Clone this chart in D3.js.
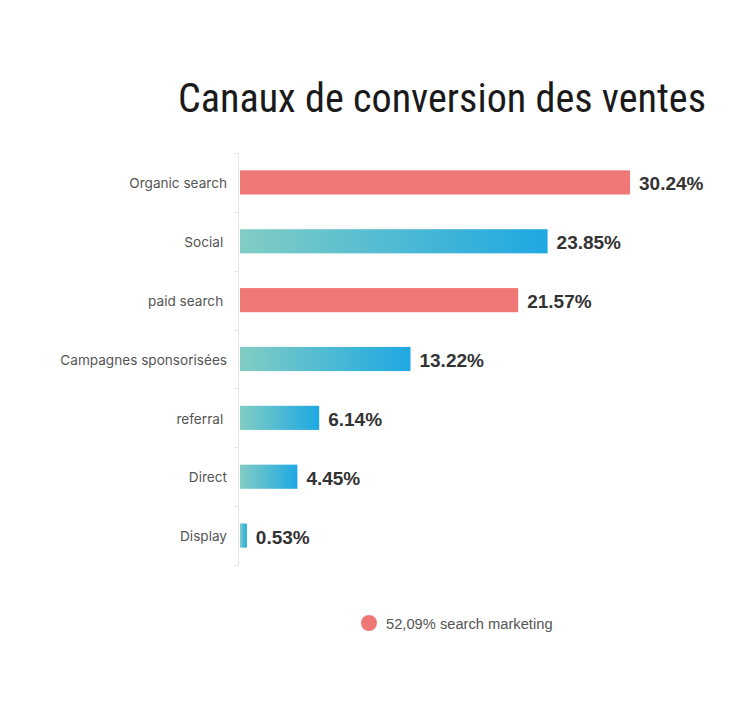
<!DOCTYPE html>
<html><head><meta charset="utf-8">
<script src="https://cdn.jsdelivr.net/npm/d3@7"></script>
<style>body{margin:0;background:#fff}</style>
</head><body><svg id="c" width="750" height="701"></svg>
<script>
const categories = ["Organic search","Social ","paid search ","Campagnes sponsorisées","referral ","Direct","Display"];
const values = [30.24,23.85,21.57,13.22,6.14,4.45,0.53];
const kinds = ["search","other","search","other","other","other","other"];
const valueLabels = ["30.24%","23.85%","21.57%","13.22%","6.14%","4.45%","0.53%"];
const legendLabel = "52,09% search marketing";
const title = "Canaux de conversion des ventes";

(function(){
const svg = d3.select("#c");
const defs = svg.append("defs");
const g = defs.append("linearGradient").attr("id","grad").attr("x1","0%").attr("x2","100%");
g.append("stop").attr("offset","0%").attr("stop-color","#81cdc4");
g.append("stop").attr("offset","100%").attr("stop-color","#1ea8e2");

const mLeft = 240, mTop = 153, mBottom = 565;
const x = d3.scaleLinear().domain([0,30.24]).range([mLeft, 630]);
const y = d3.scaleBand().domain(categories).range([mTop,mBottom]).paddingInner(0.59).paddingOuter(0.295);

svg.append("text").attr("x",706).attr("y",112).attr("text-anchor","end")
  .attr("font-family","'Liberation Sans Narrow','Roboto Condensed','Roboto',sans-serif")
  .attr("font-size",40).attr("fill","#1a1a1a").attr("textLength",528).attr("lengthAdjust","spacingAndGlyphs").text(title);

const yb = d3.scaleBand().domain(categories).range([mTop,mBottom]);
svg.append("line").attr("x1",mLeft-1.5).attr("x2",mLeft-1.5).attr("y1",mTop).attr("y2",mBottom).attr("stroke","#e6e6e6").attr("stroke-width",1);
const tickYs = categories.map(c=>yb(c)).concat([mBottom]);
svg.selectAll("line.tk").data(tickYs).join("line").attr("class","tk")
  .attr("x1",mLeft-6).attr("x2",mLeft-1).attr("y1",d=>Math.round(d)+0.5).attr("y2",d=>Math.round(d)+0.5)
  .attr("stroke","#e6e6e6");

svg.selectAll("rect.bar").data(values).join("rect").attr("class","bar")
  .attr("x",mLeft).attr("y",(d,i)=>y(categories[i]))
  .attr("width",d=>x(d)-mLeft).attr("height",y.bandwidth())
  .attr("fill",(d,i)=>kinds[i]==="search"?"#ef7876":"url(#grad)");

svg.selectAll("text.cat").data(categories).join("text").attr("class","cat")
  .attr("x",227).attr("y",d=>y(d)+y.bandwidth()/2).attr("dy","0.42em")
  .attr("text-anchor","end").style("white-space","pre")
  .attr("font-family","Inter, 'Noto Sans', sans-serif").attr("font-size",13.6).attr("fill","#555")
  .text(d=>d);

svg.selectAll("text.val").data(values).join("text").attr("class","val")
  .attr("x",d=>x(d)+9).attr("y",(d,i)=>y(categories[i])+y.bandwidth()/2).attr("dy","0.42em")
  .attr("font-family","'Liberation Sans', Arial, sans-serif").attr("font-weight","bold")
  .attr("font-size",19).attr("fill","#333").text((d,i)=>valueLabels[i]);

svg.append("circle").attr("cx",369).attr("cy",623).attr("r",8).attr("fill","#ef7876");
svg.append("text").attr("x",386).attr("y",623).attr("dy","0.38em")
  .attr("font-family","'Liberation Sans', Arial, sans-serif").attr("font-size",14.7).attr("fill","#555")
  .text(legendLabel);
})();
</script></body></html>
